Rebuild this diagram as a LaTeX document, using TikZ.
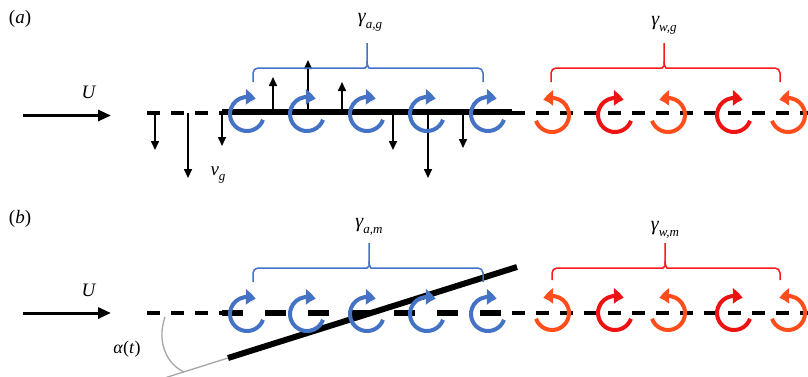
\documentclass[tikz,border=0pt]{standalone}
\usepackage{fontspec}
\setmainfont{Liberation Serif}
\usetikzlibrary{arrows.meta,bending}
\definecolor{vblue}{RGB}{68,114,196}
\definecolor{vorange}{RGB}{255,78,28}
\definecolor{vred}{RGB}{238,18,18}
\definecolor{bred}{RGB}{250,25,25}
\newcommand\mybrace[6]{% color, xl, xm, xr, yline, drop
  \draw[#1, line width=1.5pt, rounded corners=5pt] (#2,-#5-#6) -- (#2,-#5) -- (#3-7,-#5)
     .. controls (#3-2,-#5) and (#3,-#5+2) .. (#3,-#5+7) -- (#3,-#5+25);
  \draw[#1, line width=1.5pt, rounded corners=5pt] (#4,-#5-#6) -- (#4,-#5) -- (#3+7,-#5)
     .. controls (#3+2,-#5) and (#3,-#5+2) .. (#3,-#5+7);
}
\newcommand\gsub[2]{{\fontsize{20}{20}\selectfont\itshape #1\raisebox{-0.3em}{\fontsize{13}{13}\selectfont #2}}}
\begin{document}
\begin{tikzpicture}[x=1pt,y=1pt,
  cwv/.style={line width=4pt, -{Triangle[length=10pt,width=15pt,bend]}},
  flow/.style={line width=3pt, -{Triangle[length=13pt,width=11pt]}},
  varrow/.style={line width=1.6pt, -{Triangle[length=9pt,width=8pt]}},
  thindash/.style={line width=3.2pt, dash pattern=on 13pt off 11pt},
  lbl/.style={inner sep=0pt, font=\fontsize{19}{20}\selectfont}]
\useasboundingbox (0,0) rectangle (808,-376);

% ---------- panel (a) ----------
\node[lbl] (la) at (20,-19) {(\textit{a})};
\node[lbl] (Ua) at (89,-92) {\textit{U}};
\coordinate (Ua1) at (23,-115.5);
\coordinate (Ua2) at (111,-115.5);
\draw[flow] (Ua1) -- (Ua2);

\draw[thindash] (147,-113) -- (222,-113);
\draw[line width=6pt] (222,-112) -- (512,-112);
\draw[thindash] (512,-113) -- (808,-113);

\foreach \x/\y in {155/150,188/178,222/146,273/77,308/60,342/82,393/150,428/178,463/148}
  \draw[varrow] (\x,-113) -- (\x,-\y);

\node[lbl] (vg) at (218,-175) {\textit{v}\raisebox{-0.3em}{\fontsize{13}{13}\selectfont\itshape g}};

\foreach \cx in {247,307,367,427,488}
  \draw[cwv, vblue] (\cx,-114) ++(-20:17pt) arc[start angle=-20,end angle=-300,radius=17pt];
\foreach \cx in {615,734}
  \draw[cwv, vred] (\cx,-115) ++(-20:17pt) arc[start angle=-20,end angle=-300,radius=17pt];
\foreach \cx in {552,668,788}
  \draw[cwv, vorange] (\cx,-115) ++(200:17pt) arc[start angle=200,end angle=480,radius=17pt];

\mybrace{vblue}{253}{367}{483}{68}{14}
\mybrace{bred}{551}{664}{780}{68}{14}
\node[inner sep=0pt] (gag) at (370,-22) {\gsub{γ}{a,g}};
\node[inner sep=0pt] (gwg) at (664,-25) {\gsub{γ}{w,g}};

% ---------- panel (b) ----------
\node[lbl] (lb) at (20,-219) {(\textit{b})};
\node[lbl] (Ub) at (89,-290) {\textit{U}};
\coordinate (Ub1) at (23,-313);
\coordinate (Ub2) at (111,-313);
\draw[flow] (Ub1) -- (Ub2);

\draw[thindash, line width=4pt] (147,-313) -- (222,-313);
\draw[line width=6pt, dash pattern=on 21pt off 22pt] (222,-313) -- (512,-313);
\draw[thindash, line width=3.6pt] (512,-313) -- (808,-313);

\coordinate (p0) at (228,-358);
\coordinate (p1) at (517,-267);
\coordinate (g0) at (166,-377.5);
\draw[gray!70, line width=1.3pt] (p0) -- (g0);
\draw[gray!70, line width=1.3pt] (165,-317) .. controls (157,-340) and (165,-363) .. (184,-372);
\draw[line width=6pt] (p0) -- (p1);
\node[lbl, font=\fontsize{18}{18}\selectfont] (al) at (127,-349) {\textit{α}(\textit{t})};

\foreach \cx in {247,307,367,427,488}
  \draw[cwv, vblue] (\cx,-314) ++(-20:17pt) arc[start angle=-20,end angle=-300,radius=17pt];
\foreach \cx in {615,734}
  \draw[cwv, vred] (\cx,-313) ++(-20:17pt) arc[start angle=-20,end angle=-300,radius=17pt];
\foreach \cx in {552,668,788}
  \draw[cwv, vorange] (\cx,-313) ++(200:17pt) arc[start angle=200,end angle=480,radius=17pt];

\mybrace{vblue}{253}{369}{483}{268}{14}
\mybrace{bred}{552}{665}{780}{268}{12}
\node[inner sep=0pt] (gam) at (369,-227) {\gsub{γ}{a,m}};
\node[inner sep=0pt] (gwm) at (665,-230) {\gsub{γ}{w,m}};
\end{tikzpicture}
\end{document}
